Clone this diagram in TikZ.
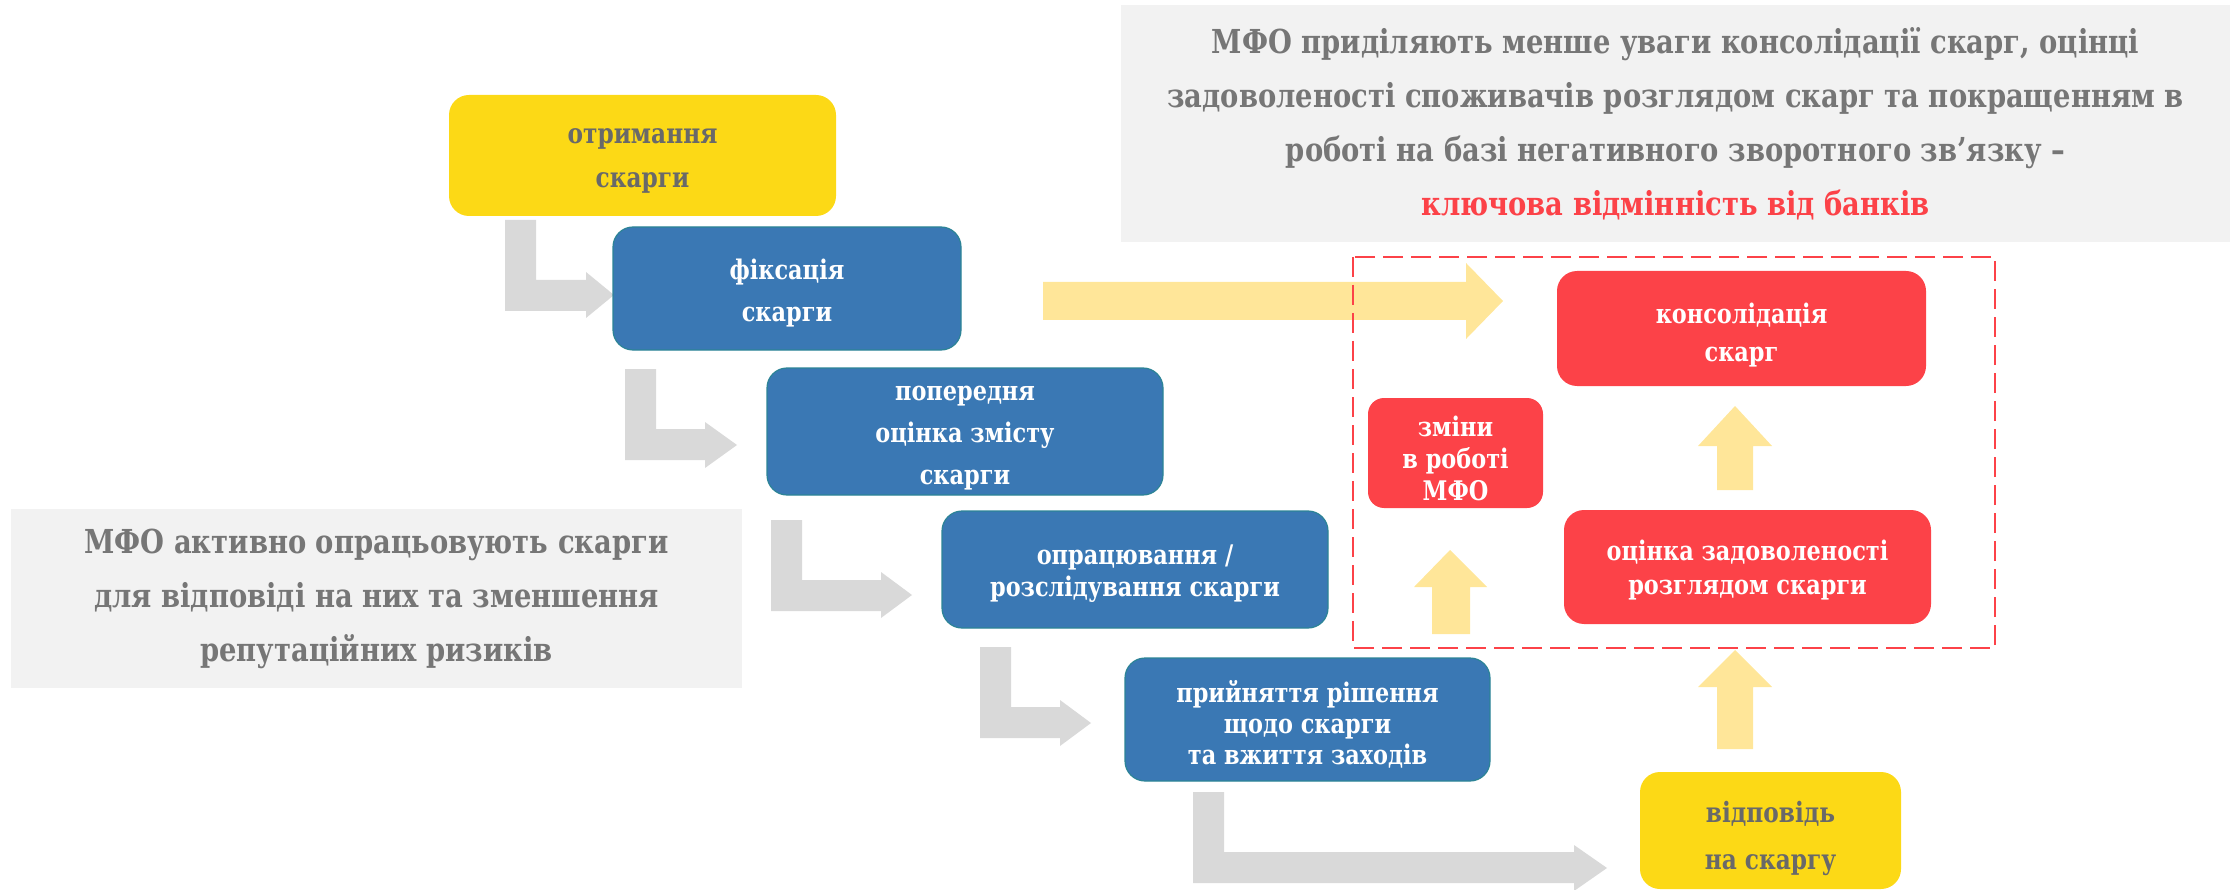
\documentclass[tikz,border=0pt]{standalone}
\usepackage{fontspec}
\setmainfont{DejaVu Serif}[FakeStretch=0.83]
\definecolor{bblue}{RGB}{58,120,180}
\definecolor{bteal}{RGB}{44,132,150}
\definecolor{rred}{RGB}{252,66,72}
\definecolor{yyel}{RGB}{252,217,22}
\definecolor{lyel}{RGB}{255,230,153}
\definecolor{garr}{RGB}{217,217,217}
\definecolor{gbox}{RGB}{242,242,242}
\definecolor{gtxt}{RGB}{118,118,118}
\definecolor{ytxt}{RGB}{105,105,105}
\begin{document}
\begin{tikzpicture}[x=1pt,y=-1pt,
  box/.style={rectangle,rounded corners=20pt,inner sep=0pt},
  bluebox/.style={box,fill=bblue,draw=bteal,line width=1.2pt},
  redbox/.style={box,fill=rred},
  yelbox/.style={box,fill=yyel},
  txt/.style={inner sep=0pt,align=center},
  bluetxt/.style={txt,text=white,font=\bfseries\fontsize{27}{#1}\selectfont},
  yeltxt/.style={txt,text=ytxt,font=\bfseries\fontsize{28}{#1}\selectfont},
  notebox/.style={rectangle,fill=gbox,inner sep=0pt,align=center,text=gtxt,font=\bfseries\fontsize{33}{54}\selectfont},
  grayarrow/.style={fill=garr},
  yelarrow/.style={fill=lyel}]
\useasboundingbox (0,0) rectangle (2234,890);
% notes
\node[notebox,minimum width=1109pt,minimum height=237pt] (note1) at (1675.5,123.5)
  {МФО приділяють менше уваги консолідації скарг, оцінці\\задоволеності споживачів розглядом скарг та покращенням в\\роботі на базі негативного зворотного зв’язку –\\\textcolor{rred}{ключова відмінність від банків}};
\node[notebox,minimum width=731pt,minimum height=179pt] (note2) at (376.5,598.5)
  {МФО активно опрацьовують скарги\\для відповіді на них та зменшення\\репутаційних ризиків};
% gray L arrows
\fill[grayarrow] (505,220) -- (536,220) -- (536,280) -- (586,280) -- (586,272) -- (614,295) -- (586,318) -- (586,311) -- (505,311) -- cycle;
\fill[grayarrow] (625,369) -- (656,369) -- (656,429) -- (705,429) -- (705,422) -- (737,445) -- (705,468) -- (705,460) -- (625,460) -- cycle;
\fill[grayarrow] (771,520) -- (802,520) -- (802,580) -- (881,580) -- (881,572) -- (912,595) -- (881,618) -- (881,611) -- (771,611) -- cycle;
\fill[grayarrow] (980,647) -- (1011,647) -- (1011,707) -- (1060,707) -- (1060,700) -- (1091,723) -- (1060,746) -- (1060,738) -- (980,738) -- cycle;
\fill[grayarrow] (1193,792) -- (1224,792) -- (1224,852) -- (1574,852) -- (1574,845) -- (1607,868) -- (1574,891) -- (1574,883) -- (1193,883) -- cycle;
% yellow arrows
\fill[yelarrow] (1043,282) -- (1466,282) -- (1466,263) -- (1503,301) -- (1466,339) -- (1466,320) -- (1043,320) -- cycle;
\fill[yelarrow] (1432,634) -- (1432,587) -- (1414,587) -- (1450,550) -- (1487,587) -- (1470,587) -- (1470,634) -- cycle;
\fill[yelarrow] (1717,490) -- (1717,446) -- (1698,446) -- (1735,406) -- (1772,446) -- (1753,446) -- (1753,490) -- cycle;
\fill[yelarrow] (1717,749) -- (1717,687) -- (1698,687) -- (1735,650) -- (1772,687) -- (1753,687) -- (1753,749) -- cycle;
% dashed frame
\draw[rred,line width=2.5pt,dash pattern=on 20pt off 8pt] (1353,257) rectangle (1995,648);
% process boxes
\node[yelbox,minimum width=387pt,minimum height=121pt] (recv) at (642.5,155.5) {};
\node[yeltxt=44] (recvT) at ([yshift=-5pt]recv.center) {отримання\\скарги};
\node[bluebox,minimum width=348pt,minimum height=123pt] (fix) at (787,288.5) {};
\node[bluetxt=42] (fixT) at ([yshift=-5pt]fix.center) {фіксація\\скарги};
\node[bluebox,minimum width=396pt,minimum height=127pt] (pre) at (965,431.5) {};
\node[bluetxt=42] (preT) at ([yshift=-7pt]pre.center) {попередня\\оцінка змісту\\скарги};
\node[bluebox,minimum width=386pt,minimum height=117pt] (proc) at (1135,569.5) {};
\node[bluetxt=32] (procT) at ([yshift=-4pt]proc.center) {опрацювання /\\розслідування скарги};
\node[bluebox,minimum width=365pt,minimum height=123pt] (dec) at (1307.5,719.5) {};
\node[bluetxt=31] (decT) at ([yshift=-5pt]dec.center) {прийняття рішення\\щодо скарги\\та вжиття заходів};
\node[yelbox,minimum width=261pt,minimum height=117pt] (resp) at (1770.5,830.5) {};
\node[yeltxt=47] (respT) at ([yshift=-8pt]resp.center) {відповідь\\на скаргу};
\node[redbox,minimum width=369pt,minimum height=115pt] (cons) at (1741.5,328.5) {};
\node[bluetxt=38] (consT) at ([yshift=-7pt]cons.center) {консолідація\\скарг};
\node[redbox,minimum width=175pt,minimum height=110pt,rounded corners=16pt] (chg) at (1455.5,453) {};
\node[bluetxt=32] (chgT) at ([yshift=-5pt]chg.center) {зміни\\в роботі\\МФО};
\node[redbox,minimum width=367pt,minimum height=114pt] (sat) at (1747.5,567) {};
\node[bluetxt=34] (satT) at ([yshift=-3pt]sat.center) {оцінка задоволеності\\розглядом скарги};
\end{tikzpicture}
\end{document}
